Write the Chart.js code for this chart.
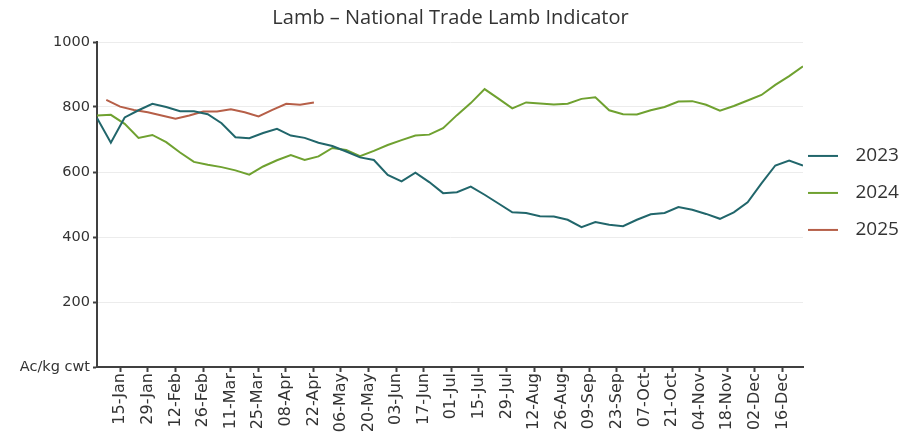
<!DOCTYPE html>
<html>
<head>
<meta charset="utf-8">
<script src="https://cdn.jsdelivr.net/npm/chart.js@4.4.1/dist/chart.umd.min.js"></script>
<style>
  html, body { margin: 0; padding: 0; background: #fff; }
</style>
</head>
<body>
<canvas id="lambChart" width="901" height="432"></canvas>
<script>
// weekly National Trade Lamb Indicator, one value per week
const years = ['2023', '2024', '2025'];
const tickLabels = ['15-Jan', '29-Jan', '12-Feb', '26-Feb', '11-Mar', '25-Mar', '08-Apr', '22-Apr',
    '06-May', '20-May', '03-Jun', '17-Jun', '01-Jul', '15-Jul', '29-Jul', '12-Aug', '26-Aug',
    '09-Sep', '23-Sep', '07-Oct', '21-Oct', '04-Nov', '18-Nov', '02-Dec', '16-Dec'];

const lamb2023 = [766, 690, 768, 790, 810, 800, 787, 787, 778, 750, 707, 704, 720, 733, 712, 705,
    690, 680, 663, 645, 637, 591, 571, 598, 569, 535, 538, 555, 530, 503, 476, 474, 464, 463, 453,
    430, 446, 438, 433, 453, 470, 474, 492, 484, 471, 456, 476, 507, 565, 620, 635, 620];
const lamb2024 = [774, 776, 748, 705, 714, 692, 660, 631, 622, 615, 605, 592, 617, 636, 652, 637,
    648, 674, 668, 649, 665, 683, 698, 712, 715, 735, 775, 812, 855, 826, 796, 814, 811, 808, 810,
    825, 830, 790, 778, 777, 790, 800, 817, 818, 807, 789, 803, 820, 837, 868, 895, 925];
const lamb2025 = [822, 801, 791, 784, 774, 764, 774, 786, 786, 793, 784, 771, 791, 810, 807, 814];

const colors = ['#21666b', '#6fa130', '#b65f48'];

// x axis is in weeks; 2025 weeks fall a few days later than the other years
const weekShift = [0, 0, 0.67];
const firstTick = 1.68;
const tickStep = 1.993;

const axisColor = '#404040';
const textColor = '#333333';

function toPoints(values, shift) {
    return values.map((v, i) => ({ x: i + shift, y: v }));
}

// legend sample: 30px line, drawn so it starts left of the label box
function legendLine(color) {
    const c = document.createElement('canvas');
    c.width = 51;
    c.height = 4;
    const g = c.getContext('2d');
    g.strokeStyle = color;
    g.lineWidth = 2;
    g.beginPath();
    g.moveTo(0, 2);
    g.lineTo(30, 2);
    g.stroke();
    return c;
}

const series = [lamb2023, lamb2024, lamb2025];

const datasets = series.map((values, k) => ({
    label: years[k],
    data: toPoints(values, weekShift[k]),
    borderColor: colors[k],
    backgroundColor: colors[k],
    borderWidth: 2,
    pointRadius: 0,
    tension: 0,
    fill: false
}));

const ctx = document.getElementById('lambChart').getContext('2d');
const chart = new Chart(ctx, {
    type: 'line',
    data: { datasets: datasets },
    options: {
        responsive: false,
        animation: false,
        layout: { padding: 0 },
        plugins: {
            title: {
                display: true,
                text: 'Lamb \u2013 National Trade Lamb Indicator',
                color: textColor,
                font: { family: 'Open Sans', size: 20, weight: 'normal' },
                padding: { top: 6, bottom: 12 }
            },
            legend: {
                position: 'right',
                align: 'start',
                fullSize: false,
                maxWidth: 98,
                title: { display: true, text: '', padding: { top: 72, bottom: 0 } },
                labels: {
                    color: textColor,
                    font: { family: 'Open Sans', size: 19 },
                    usePointStyle: true,
                    pointStyleWidth: 25,
                    padding: 18,
                    generateLabels: function (chart) {
                        const items = Chart.defaults.plugins.legend.labels.generateLabels(chart);
                        items.forEach((item, i) => { item.pointStyle = legendLine(colors[i]); });
                        return items;
                    }
                }
            },
            tooltip: { enabled: false }
        },
        scales: {
            x: {
                type: 'linear',
                min: 0,
                max: 51,
                bounds: 'data',
                afterBuildTicks: function (scale) {
                    scale.ticks = tickLabels.map((t, k) => ({ value: firstTick + k * tickStep }));
                },
                afterFit: function (scale) {
                    scale.height = 65;
                },
                ticks: {
                    autoSkip: false,
                    maxRotation: 90,
                    minRotation: 90,
                    padding: 1,
                    color: textColor,
                    font: { family: 'DejaVu Sans', size: 16 },
                    callback: function (value, index) {
                        return tickLabels[index];
                    }
                },
                grid: {
                    drawOnChartArea: false,
                    tickLength: 5,
                    tickColor: axisColor,
                    tickWidth: 2
                },
                border: { color: axisColor, width: 2 }
            },
            y: {
                min: 0,
                max: 1000,
                afterFit: function (scale) {
                    scale.width = 97;
                },
                ticks: {
                    stepSize: 200,
                    padding: 3,
                    color: textColor,
                    font: { family: 'DejaVu Sans', size: 14.5 },
                    callback: function (value) {
                        return value === 0 ? 'Ac/kg cwt' : value;
                    }
                },
                grid: {
                    color: function (c) {
                        return c.tick && c.tick.value === 0 ? 'rgba(0,0,0,0)' : '#ececec';
                    },
                    tickColor: axisColor,
                    tickLength: 4,
                    tickWidth: 2
                },
                border: { color: axisColor, width: 2 }
            }
        }
    }
});
</script>
</body>
</html>
